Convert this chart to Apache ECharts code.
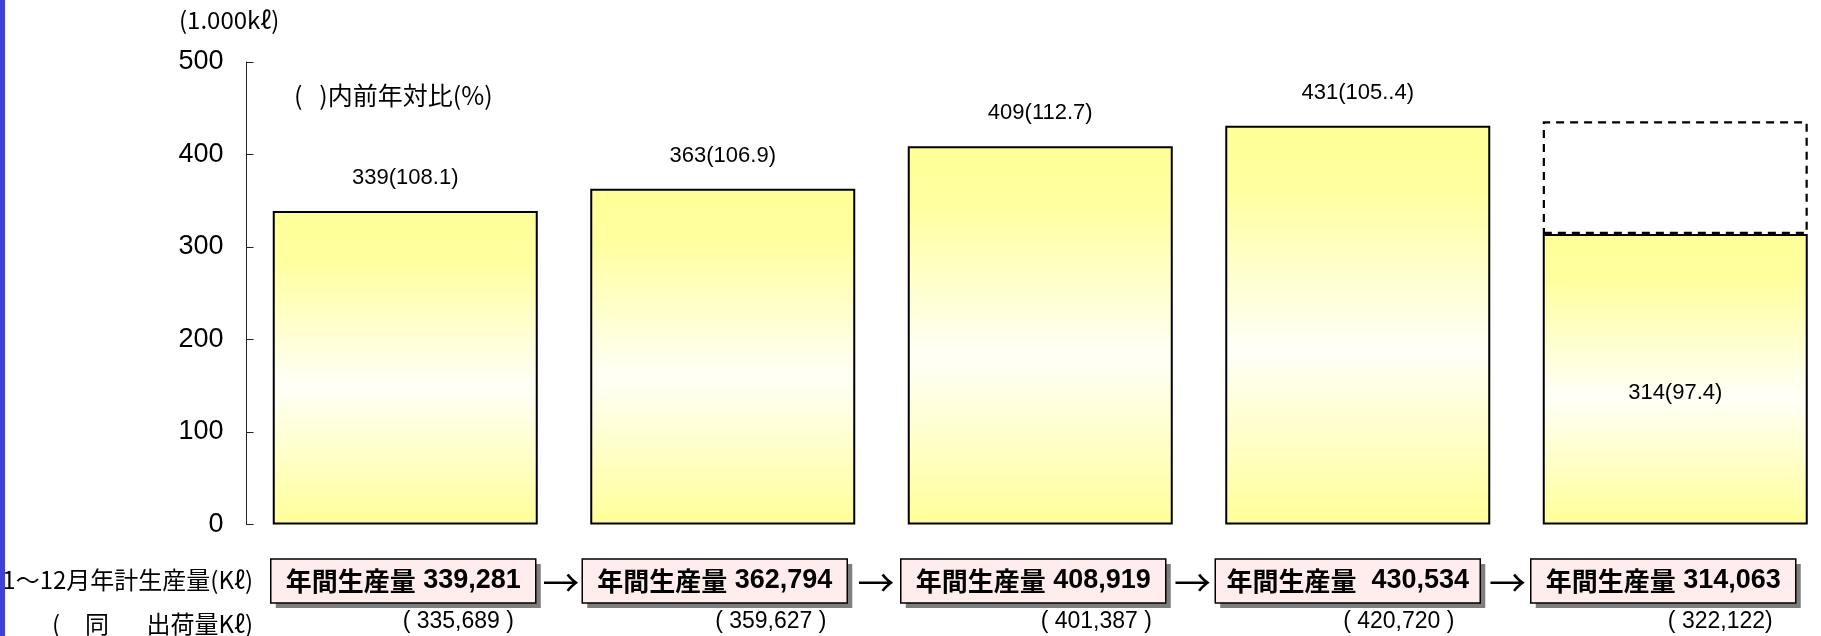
<!DOCTYPE html>
<html><head><meta charset="utf-8">
<script src="https://cdn.jsdelivr.net/npm/echarts@6/dist/echarts.min.js"></script>
<style>html,body{margin:0;padding:0;background:#fff}#c{width:1821px;height:636px}</style>
</head><body><div id="c"></div>
<script>
// ---- data ----
const categories = ['第1期', '第2期', '第3期', '第4期', '第5期'];
const production = [339, 363, 409, 431, 314];            // 1,000kℓ
const barLabels = ['339(108.1)', '363(106.9)', '409(112.7)', '431(105..4)', '314(97.4)'];
const prevLevelTop = [null, null, null, null, 436];        // dashed outline top
const annualProduction = ['339,281', '362,794', '408,919', ' 430,534', '314,063'];
const shipments = ['( 335,689 )', '( 359,627 )', '( 401,387 )', '( 420,720 )', '( 322,122)'];
const yTicks = [0, 100, 200, 300, 400, 500];

// ---- styles ----
const CJK = '"Noto Sans CJK JP", sans-serif';
const LAT = '"Liberation Sans", Arial, sans-serif';
const boxShift = [-2, -8, -7, -10, -12];
const shipShift = [53, 48, 56, 41, 45];

const chart = echarts.init(document.getElementById('c'));
const grad = new echarts.graphic.LinearGradient(0, 0, 0, 1, [
  {offset: 0, color: '#FFFF99'},
  {offset: 0.15, color: '#FFFF9E'},
  {offset: 0.56, color: '#FFFFF8'},
  {offset: 1, color: '#FFFF99'}
]);

chart.setOption({
  animation: false,
  grid: {left: 246.5, top: 62, width: 1587.5, height: 462.5, outerBoundsMode: 'none', containLabel: false},
  xAxis: {
    type: 'category', data: categories,
    axisLine: {show: false}, axisTick: {show: false}, axisLabel: {show: false}, splitLine: {show: false}
  },
  yAxis: {
    type: 'value', min: yTicks[0], max: yTicks[yTicks.length - 1], interval: yTicks[1] - yTicks[0],
    axisLine: {show: true, lineStyle: {color: '#222', width: 1}},
    axisTick: {show: true, inside: true, length: 7, lineStyle: {color: '#222', width: 1}},
    axisLabel: {fontSize: 27, color: '#000', fontFamily: LAT, margin: 23},
    splitLine: {show: false}
  },
  series: [
    {
      type: 'bar', stack: 's', barWidth: 265,
      data: production.map((v, i) => i === 4
        ? {value: v, label: {position: 'inside', offset: [0, 14]}}
        : v),
      itemStyle: {color: grad, borderColor: '#000', borderWidth: 2},
      label: {
        show: true, position: 'top', distance: 22,
        formatter: p => barLabels[p.dataIndex],
        fontSize: 22, color: '#000', fontFamily: LAT
      }
    },
    {
      type: 'bar', stack: 's', barWidth: 263,
      data: prevLevelTop.map((t, i) => t == null ? '-' : t - production[i]),
      itemStyle: {color: 'rgba(0,0,0,0)', borderColor: '#000', borderWidth: 2.2, borderType: [8, 6]},
      label: {show: false}
    }
  ]
});

// ---- annotations positioned from the category axis ----
const g = [];
g.push({type: 'rect', shape: {x: 0, y: 0, width: 5, height: 636}, style: {fill: '#4141D6'}, z: 10});
g.push({type: 'text', style: {text: '(1.000kℓ)', x: 179, y: 20, verticalAlign: 'middle', font: '24px ' + CJK, fill: '#000'}});
g.push({type: 'text', style: {text: '(   )内前年対比(%)', x: 294, y: 95, verticalAlign: 'middle', font: '25px ' + CJK, fill: '#000'}});
g.push({type: 'text', style: {text: '1～12月年計生産量(Kℓ)', x: 253, y: 580, align: 'right', verticalAlign: 'middle', font: '24px ' + CJK, fill: '#000'}});
g.push({type: 'text', style: {text: '(', x: 52, y: 624, verticalAlign: 'middle', font: '24px ' + CJK, fill: '#000'}});
g.push({type: 'text', style: {text: '同', x: 85, y: 624, verticalAlign: 'middle', font: '24px ' + CJK, fill: '#000'}});
g.push({type: 'text', style: {text: '出荷量Kℓ)', x: 253, y: 624, align: 'right', verticalAlign: 'middle', font: '24px ' + CJK, fill: '#000'}});

const boxW = 265, boxH = 44, boxTop = 559;
const centers = categories.map((c, i) => chart.convertToPixel({xAxisIndex: 0}, c) + boxShift[i]);
centers.forEach((cx, i) => {
  const x0 = cx - boxW / 2;
  g.push({type: 'rect', shape: {x: x0 + 5, y: boxTop + 5, width: boxW, height: boxH}, style: {fill: '#7E7E7E'}});
  g.push({type: 'rect', shape: {x: x0, y: boxTop, width: boxW, height: boxH}, style: {fill: '#FFECEC', stroke: '#000', lineWidth: 1.5}});
  g.push({type: 'text', style: {
    text: '{a|年間生産量} {b|' + annualProduction[i] + '}',
    x: cx, y: boxTop + boxH / 2, align: 'center', verticalAlign: 'middle',
    rich: {
      a: {font: 'bold 26px ' + CJK, fill: '#000'},
      b: {font: 'bold 27px ' + LAT, fill: '#000'}
    },
    font: 'bold 27px ' + LAT, fill: '#000'
  }});
  const sx = chart.convertToPixel({xAxisIndex: 0}, categories[i]) + shipShift[i];
  g.push({type: 'text', style: {text: shipments[i], x: sx, y: 622, align: 'center', verticalAlign: 'middle', font: '23px ' + LAT, fill: '#000'}});
  if (i < centers.length - 1) {
    const ax = (cx + centers[i + 1]) / 2 + 2;
    g.push({type: 'text', style: {text: '→', x: ax, y: 583, align: 'center', verticalAlign: 'middle', font: '37px ' + CJK, fill: '#000'}});
  }
});
chart.setOption({graphic: g});
</script>
</body></html>
